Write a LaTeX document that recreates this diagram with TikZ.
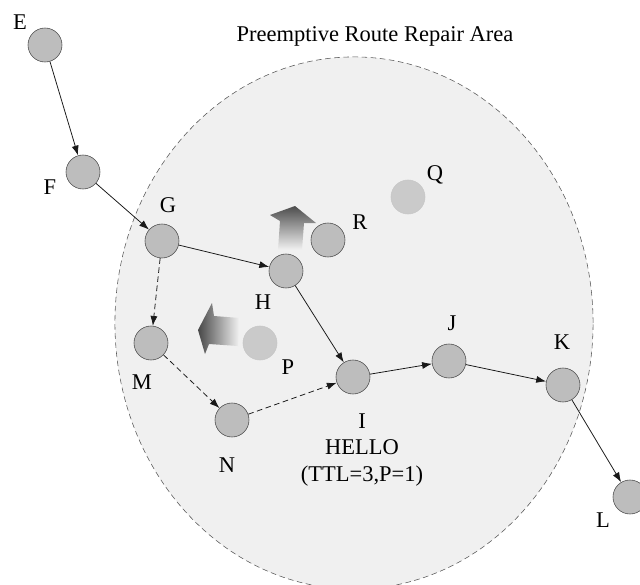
\documentclass[tikz,border=0pt]{standalone}
\usepackage{fontspec}
\setmainfont{Liberation Serif}
\usetikzlibrary{arrows.meta, shapes.geometric, positioning, calc}

\definecolor{areafill}{HTML}{F0F0F0}
\definecolor{nodefill}{HTML}{BDBDBD}
\definecolor{ghostfill}{HTML}{CACACA}

\begin{document}
\begin{tikzpicture}[x=0.025cm, y=-0.025cm, >={Latex[length=7pt,width=5pt]},
  host/.style={circle, draw=black!70, fill=nodefill, minimum size=0.85cm, inner sep=0pt},
  ghost/.style={circle, draw=black!22, fill=ghostfill, minimum size=0.85cm, inner sep=0pt},
  lbl/.style={font=\fontsize{16}{19}\selectfont},
  link/.style={->, black!90, line width=0.55pt},
  detour/.style={link, dash pattern=on 4pt off 2.5pt}]
\useasboundingbox (0,0) rectangle (640,585);

% Repair area
\draw[dash pattern=on 4pt off 2.5pt, draw=black!65, fill=areafill] (354,323) ellipse [x radius=5.975cm, y radius=6.65cm];
\node[lbl] (title) at (375,36) {Preemptive Route Repair Area};

% Moving nodes
\shade[top color=black!70, bottom color=black!5] (278,250) -- (280,221) -- (270,215) -- (295,206) -- (316,223) -- (304,223) -- (302,250) -- cycle;
\shade[left color=black!72, right color=black!4] (198,330) -- (212,303) -- (214,316) -- (240,318) -- (238,346) -- (209,344) -- (205,354) -- cycle;

% Nodes
\node[host] (E) at (45,45) {};
\node[host] (F) at (83,172) {};
\node[host] (G) at (162,241) {};
\node[host] (H) at (286,271) {};
\node[host] (R) at (328,240) {};
\node[ghost] (Q) at (408,197) {};
\node[ghost] (P) at (260,343) {};
\node[host] (M) at (151,343) {};
\node[host] (N) at (232,420) {};
\node[host] (I) at (353,377) {};
\node[host] (J) at (449,361) {};
\node[host] (K) at (563,385) {};
\node[host] (L) at (630,497) {};

% Labels
\node[lbl] (labE) at (20,22) {E};
\node[lbl] (labF) at (50,187) {F};
\node[lbl] (labG) at (168,205) {G};
\node[lbl] (labH) at (263,302) {H};
\node[lbl] (labR) at (360,222) {R};
\node[lbl] (labQ) at (435,175) {Q};
\node[lbl] (labP) at (288,367) {P};
\node[lbl] (labM) at (142,382) {M};
\node[lbl] (labN) at (227,465) {N};
\node[lbl, align=center] (labI) at (362,450) {I\\HELLO\\(TTL=3,P=1)};
\node[lbl] (labJ) at (452,323) {J};
\node[lbl] (labK) at (562,342) {K};
\node[lbl] (labL) at (603,520) {L};

% Route
\draw[link] (E) -- (F);
\draw[link] (F) -- (G);
\draw[link] (G) -- (H);
\draw[link] (H) -- (I);
\draw[link] (I) -- (J);
\draw[link] (J) -- (K);
\draw[link] (K) -- (L);

% Repaired route
\draw[detour] (G) -- (M);
\draw[detour] (M) -- (N);
\draw[detour] (N) -- (I);
\end{tikzpicture}
\end{document}
